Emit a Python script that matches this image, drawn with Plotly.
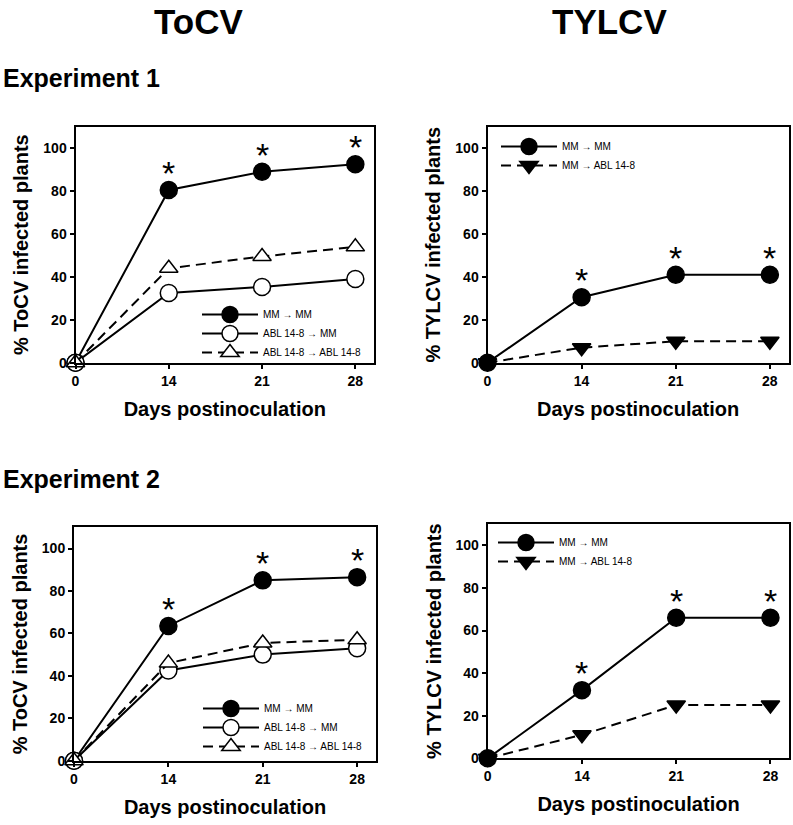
import plotly.graph_objects as go

days = [0, 14, 21, 28]
day_labels = [str(d) for d in days]

# ToCV, Experiment 1
tocv1_mm_mm = [0, 80.5, 89, 92.5]
tocv1_abl_mm = [0, 32.5, 35.3, 39]
tocv1_abl_abl = [0, 44, 49.5, 54]
# TYLCV, Experiment 1
tylcv1_mm_mm = [0, 30.5, 41, 41]
tylcv1_mm_abl = [0, 7, 10, 10]
# ToCV, Experiment 2
tocv2_mm_mm = [0, 63.5, 85, 86.5]
tocv2_abl_mm = [0, 42.5, 50, 53]
tocv2_abl_abl = [0, 46, 55.5, 57]
# TYLCV, Experiment 2
tylcv2_mm_mm = [0, 32, 66, 66]
tylcv2_mm_abl = [0, 11, 25, 25]

signif = ["", "*", "*", "*"]

W, H = 793, 825
FONT = "Liberation Sans, Arial, sans-serif"

fig = go.Figure()

def px_x(a, b):
    return [a / W, b / W]

def px_y(top, bottom):
    return [1 - bottom / H, 1 - top / H]

panels = [
    ("", px_x(75.5, 374), px_y(126.7, 362.7), "% ToCV infected plants", "legend", (197, 300)),
    ("2", px_x(487.5, 788.7), px_y(126.7, 362.7), "% TYLCV infected plants", "legend2", (496, 132)),
    ("3", px_x(74, 376), px_y(527.3, 760.7), "% ToCV infected plants", "legend3", (198, 694)),
    ("4", px_x(487.7, 789.3), px_y(524, 758.3), "% TYLCV infected plants", "legend4", (493, 528)),
]

series = [
    [("MM \u2192 MM", tocv1_mm_mm, "circle", "black", "solid", True),
     ("ABL 14-8 \u2192 MM", tocv1_abl_mm, "circle", "white", "solid", False),
     ("ABL 14-8 \u2192 ABL 14-8", tocv1_abl_abl, "triangle-up", "white", "10px,6px", False)],
    [("MM \u2192 MM", tylcv1_mm_mm, "circle", "black", "solid", True),
     ("MM \u2192 ABL 14-8", tylcv1_mm_abl, "triangle-down", "black", "10px,6px", False)],
    [("MM \u2192 MM", tocv2_mm_mm, "circle", "black", "solid", True),
     ("ABL 14-8 \u2192 MM", tocv2_abl_mm, "circle", "white", "solid", False),
     ("ABL 14-8 \u2192 ABL 14-8", tocv2_abl_abl, "triangle-up", "white", "10px,6px", False)],
    [("MM \u2192 MM", tylcv2_mm_mm, "circle", "black", "solid", True),
     ("MM \u2192 ABL 14-8", tylcv2_mm_abl, "triangle-down", "black", "10px,6px", False)],
]

layout = dict(
    width=W, height=H,
    margin=dict(l=0, r=0, t=0, b=0, autoexpand=False),
    paper_bgcolor="white", plot_bgcolor="white",
    font=dict(family=FONT, color="black"),
    showlegend=True,
)

annotations = []

for (suf, xd, yd, ytitle, leg, lpos), ser in zip(panels, series):
    xa = "x" + suf
    ya = "y" + suf
    for name, vals, sym, fill, dash, star in ser:
        size = 17 if sym == "circle" else 16
        fig.add_trace(go.Scatter(
            x=day_labels, y=vals, name=name,
            xaxis=xa, yaxis=ya, legend=leg,
            mode="lines+markers",
            line=dict(color="black", width=2, dash=dash),
            marker=dict(symbol=sym, size=size, color=fill,
                        line=dict(color="black", width=1.5)),
            cliponaxis=False,
        ))
        if star:
            # category axes place annotations by category index
            for i, (v, s) in enumerate(zip(vals, signif)):
                if s:
                    annotations.append(dict(
                        x=i, y=v, xref=xa, yref=ya, text=s, showarrow=False,
                        yshift=17, xanchor="center", yanchor="middle",
                        font=dict(size=34, family=FONT, color="black"),
                    ))
    layout["xaxis" + suf] = dict(
        domain=xd, anchor=ya, type="category", range=[0, 3.2],
        automargin=False,
        showline=True, mirror=True, linecolor="black", linewidth=2,
        ticks="outside", ticklen=4, tickwidth=1.5, tickcolor="black",
        tickfont=dict(size=14, family=FONT, weight="bold"),
        showgrid=False, zeroline=False,
        title=dict(text="Days postinoculation", standoff=14,
                   font=dict(size=20, family=FONT, weight="bold")),
    )
    layout["yaxis" + suf] = dict(
        domain=yd, anchor=xa, range=[0, 110],
        automargin=False,
        tickvals=[0, 20, 40, 60, 80, 100],
        showline=True, mirror=True, linecolor="black", linewidth=2,
        ticks="outside", ticklen=4, tickwidth=1.5, tickcolor="black",
        tickfont=dict(size=14, family=FONT, weight="bold"),
        showgrid=False, zeroline=False,
        title=dict(text=ytitle, standoff=9,
                   font=dict(size=20, family=FONT, weight="bold")),
    )
    layout[leg] = dict(
        x=lpos[0] / W, y=1 - lpos[1] / H, xanchor="left", yanchor="top",
        bgcolor="rgba(0,0,0,0)", borderwidth=0,
        font=dict(size=10, family=FONT), itemwidth=56,
        tracegroupgap=0,
    )

titles = [
    dict(text="<b>ToCV</b>", x=198 / W, y=1, xanchor="center", yanchor="top",
         font=dict(size=35, family=FONT)),
    dict(text="<b>TYLCV</b>", x=609 / W, y=1, xanchor="center", yanchor="top",
         font=dict(size=35, family=FONT)),
    dict(text="<b>Experiment 1</b>", x=1 / W, y=1 - 94 / H, xanchor="left", yanchor="bottom",
         font=dict(size=25, family=FONT)),
    dict(text="<b>Experiment 2</b>", x=1 / W, y=1 - 495 / H, xanchor="left", yanchor="bottom",
         font=dict(size=25, family=FONT)),
]
for a in titles:
    a.update(xref="paper", yref="paper", showarrow=False)
layout["annotations"] = titles + annotations

fig.update_layout(**layout)
fig.write_html("out.html", config={"displayModeBar": False},
               post_script="document.body.style.margin='0';")
